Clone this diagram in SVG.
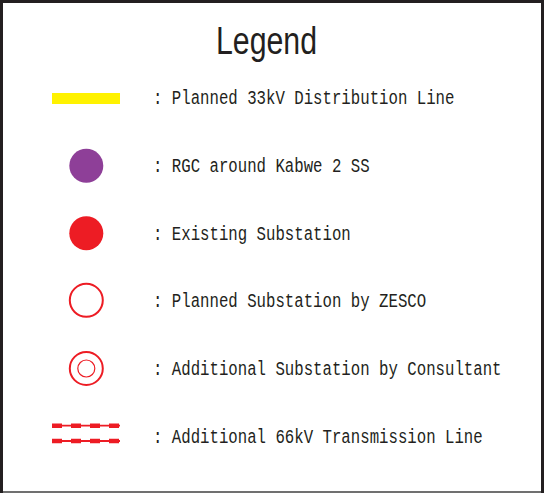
<svg xmlns="http://www.w3.org/2000/svg" width="544" height="493" viewBox="0 0 544 493">
<defs>
<style>
.lbl{font-family:"Liberation Mono","DejaVu Sans Mono",monospace;font-size:15.7px;fill:#231f20}
.ttl{font-family:"Liberation Sans","DejaVu Sans",sans-serif;font-size:38px;fill:#231f20}
.red{fill:#ed1c24}
.ring{fill:none;stroke:#ed1c24}
.thin{stroke:#ed1c24;stroke-width:1.8;fill:none}
.dash{stroke:#ed1c24;stroke-width:4.5;stroke-dasharray:10 9;fill:none}
</style>
</defs>
<g id="frame">
<rect x="0" y="0" width="544" height="493" fill="#231f20"/>
<rect x="3" y="3" width="538" height="488" fill="#ffffff"/>
<rect x="3" y="491" width="538" height="2" fill="#707070"/>
</g>
<g id="title"><text class="ttl" x="216" y="54" textLength="101" lengthAdjust="spacingAndGlyphs">Legend</text></g>
<g id="item-33kv">
<rect x="52" y="93" width="68" height="11" fill="#fff200"/>
<text class="lbl" transform="translate(153,104) scale(1,1.25)">: Planned 33kV Distribution Line</text>
</g>
<g id="item-rgc">
<circle cx="86.3" cy="165.7" r="17" fill="#8e3f98"/>
<text class="lbl" transform="translate(153,172) scale(1,1.25)">: RGC around Kabwe 2 SS</text>
</g>
<g id="item-existing">
<circle cx="86.3" cy="233.3" r="17" class="red"/>
<text class="lbl" transform="translate(153,240) scale(1,1.25)">: Existing Substation</text>
</g>
<g id="item-planned">
<circle cx="86.3" cy="300.3" r="16.5" class="ring" stroke-width="2"/>
<text class="lbl" transform="translate(153,307) scale(1,1.25)">: Planned Substation by ZESCO</text>
</g>
<g id="item-additional">
<circle cx="86.3" cy="368.5" r="16.5" class="ring" stroke-width="2"/>
<circle cx="86.3" cy="368.5" r="8.5" class="ring" stroke-width="1.2"/>
<text class="lbl" transform="translate(153,375) scale(1,1.25)">: Additional Substation by Consultant</text>
</g>
<g id="connectors">
<line x1="52" y1="425.7" x2="120" y2="425.7" class="thin"/>
<line x1="52" y1="425.7" x2="120" y2="425.7" class="dash"/>
<line x1="52" y1="441" x2="120" y2="441" class="thin"/>
<line x1="52" y1="441" x2="120" y2="441" class="dash"/>
</g>
<g id="item-66kv">
<text class="lbl" transform="translate(153,443) scale(1,1.25)">: Additional 66kV Transmission Line</text>
</g>
</svg>
